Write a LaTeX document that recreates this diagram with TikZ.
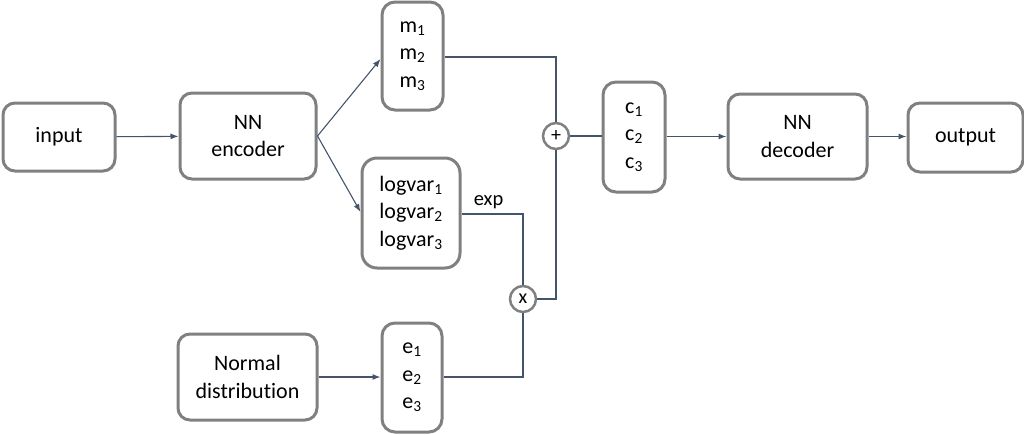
\documentclass[tikz,border=0pt]{standalone}
\usepackage{fontspec}
\setmainfont{Carlito}[Ligatures=NoCommon]
\usetikzlibrary{arrows.meta, positioning}
\definecolor{BoxGray}{RGB}{128,128,128}
\definecolor{LineBlue}{RGB}{68,84,106}
\tikzset{
  >={Latex[length=8pt,width=6pt]},
  % blocchi
  block/.style={draw=BoxGray, line width=3pt, rounded corners=12pt, fill=white,
    align=center, inner sep=2pt, font=\fontsize{22}{27.5}\selectfont},
  block vec/.style={block, rounded corners=13pt},
  % operatori
  op/.style={circle, draw=BoxGray, line width=2.5pt, fill=white, minimum size=26pt,
    inner sep=0pt, font=\fontsize{20}{22}\selectfont},
  % connessioni
  link/.style={LineBlue, line width=1.1pt},
  link arrow/.style={link, ->}
}
\newcommand{\vsub}[2]{#1\textsubscript{#2}}

\begin{document}
\begin{tikzpicture}[x=1pt,y=-1pt]
  \useasboundingbox (0,0) rectangle (1024,434);
  % nodi
  \node[block, minimum width=112pt, minimum height=68pt] (input) at (59,137) {input};
  \node[block, minimum width=136pt, minimum height=86pt] (enc) at (248,136) {NN\\encoder};
  \node[block vec, minimum width=61pt, minimum height=108pt] (mu) at (412.5,56) {\vsub{m}{1}\\\vsub{m}{2}\\\vsub{m}{3}};
  \node[block vec, minimum width=98pt, minimum height=110pt, rounded corners=15pt] (lv) at (411,213) {\vsub{logvar}{1}\\\vsub{logvar}{2}\\\vsub{logvar}{3}};
  \node[block, minimum width=139pt, minimum height=86pt] (norm) at (247.5,377) {Normal\\distribution};
  \node[block vec, minimum width=60pt, minimum height=109pt] (eps) at (412,377.5) {\vsub{e}{1}\\\vsub{e}{2}\\\vsub{e}{3}};
  \node[op] (mul) at (523,299) {x};
  \node[op] (add) at (556,136) {+};
  \node[block vec, minimum width=62pt, minimum height=110pt] (code) at (634,137) {\vsub{c}{1}\\\vsub{c}{2}\\\vsub{c}{3}};
  \node[block, minimum width=139pt, minimum height=85pt] (dec) at (797.5,136.5) {NN\\decoder};
  \node[block, minimum width=115pt, minimum height=69pt] (output) at (965.5,137.5) {output};
  % connessioni
  \draw[link arrow] (input) -- (enc);
  \draw[link arrow] (enc.east) -- (mu.west |- 0,59);
  \draw[link arrow] (enc.east) -- (lv.west |- 0,212);
  \draw[link arrow] (norm) -- (eps.west |- norm);
  \draw[link] (mu.east |- 0,57) -| (add.north);
  \draw[link] (lv.east |- 0,214) -| (mul.north)
    node[pos=0.22, above=1pt, black, font=\fontsize{20.5}{24}\selectfont] {exp};
  \draw[link] (eps.east |- 0,377) -| (mul.south);
  \draw[link] (mul.east) -| (add.south);
  \draw[link] (add.east) -- (code.west |- add);
  \draw[link arrow] (code.east |- dec) -- (dec);
  \draw[link arrow] (dec) -- (output.west |- dec);
\end{tikzpicture}
\end{document}
